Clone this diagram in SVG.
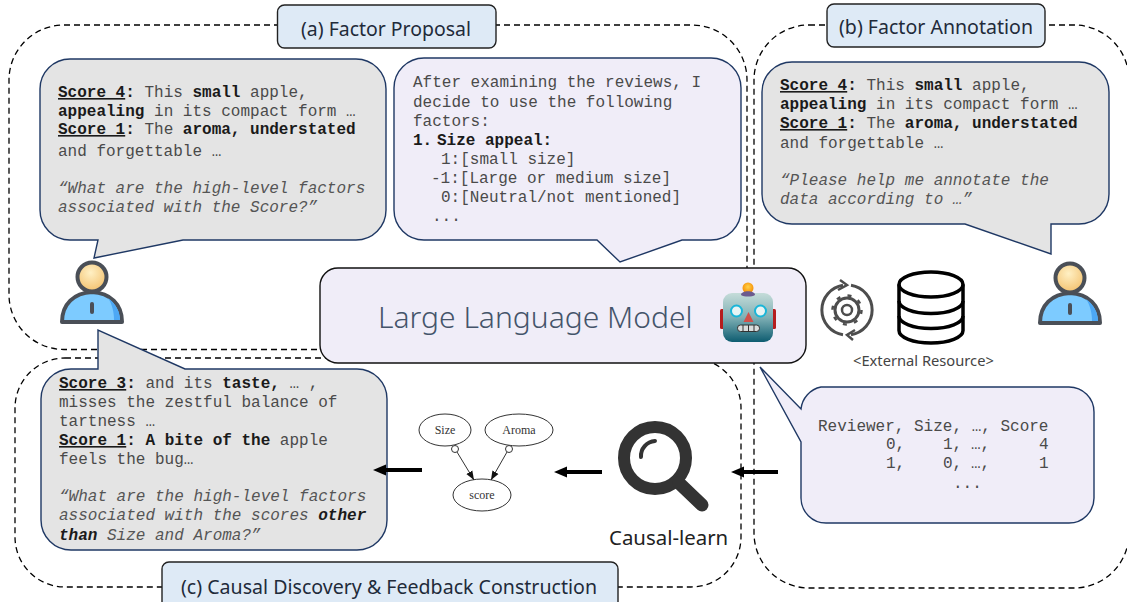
<svg xmlns="http://www.w3.org/2000/svg" width="1127" height="602" viewBox="0 0 1127 602">
<style>
.dash{fill:none;stroke:#000;stroke-width:1.3;stroke-dasharray:6 4}
.tag{fill:#deeaf6;stroke:#222;stroke-width:1.4}
.tagt{font-family:"Noto Sans","Open Sans",sans-serif;font-size:20px;fill:#1f2b3a}
.gray{fill:#e4e4e4;stroke:#1f3864;stroke-width:1.4;stroke-linejoin:miter}
.lav{fill:#f0edf8;stroke:#1f3864;stroke-width:1.4;stroke-linejoin:miter}
.m{font-family:"Liberation Mono","Courier New",monospace;font-size:16px;fill:#4a4a4a;white-space:pre}
.b{font-weight:700;fill:#1a1a1a}
.u{text-decoration:underline}
.i{font-style:italic;fill:#555}
.g{fill:#fff;stroke:#333;stroke-width:1}
.gt{font-family:"Liberation Serif",serif;font-size:12px;fill:#333;text-anchor:middle}
.ln{fill:none;stroke:#000;stroke-width:4}
.thin{fill:none;stroke:#333;stroke-width:1}
</style>
<defs>
<marker id="big" markerUnits="userSpaceOnUse" markerWidth="14" markerHeight="14" refX="1" refY="7" orient="auto"><path d="M13 1.500L0 7L13 12.500Z" fill="#000" transform="rotate(180 7 7)"/></marker>
<marker id="small" markerUnits="userSpaceOnUse" markerWidth="10" markerHeight="10" refX="9" refY="5" orient="auto"><path d="M0 1.500L9 5L0 8.500Z" fill="#111"/></marker>
<linearGradient id="head" x1="0" y1="0" x2="0" y2="1"><stop offset="0" stop-color="#c5dcd9"/><stop offset="0.5" stop-color="#7fb0b5"/><stop offset="1" stop-color="#0d5c70"/></linearGradient>
<radialGradient id="bulb" cx="0.5" cy="0.4" r="0.6"><stop offset="0" stop-color="#ffd24a"/><stop offset="1" stop-color="#f58a00"/></radialGradient>
<radialGradient id="face" cx="0.45" cy="0.35" r="0.65"><stop offset="0" stop-color="#fff0c4"/><stop offset="1" stop-color="#f3c270"/></radialGradient>
<g id="person">
<path d="M62 322 C62 304 74 293 92 292 C110 293 122 304 122 322 Z" fill="#7dcbff" stroke="#4a4f57" stroke-width="4" stroke-linejoin="round"/>
<path d="M108 298 C116 304 120 312 120 320 L114 320 C114 312 112 304 108 298Z" fill="#4da8f5"/>
<circle cx="92" cy="277" r="14.500" fill="url(#face)" stroke="#4a4f57" stroke-width="4"/>
<path d="M92 304V312" stroke="#4a4f57" stroke-width="4" stroke-linecap="round"/>
</g>
</defs>
<rect width="1127" height="602" fill="#fff"/>

<g id="regions">
<rect class="dash" x="9" y="25" width="738" height="324.500" rx="55"/>
<rect class="dash" x="15" y="358" width="726" height="229" rx="50"/>
<rect class="dash" x="754" y="25" width="375" height="563" rx="55"/>
</g>

<g id="tag-a"><rect class="tag" x="277.500" y="5" width="218.500" height="43" rx="7"/><text class="tagt" x="301" y="36" textLength="170" lengthAdjust="spacingAndGlyphs">(a) Factor Proposal</text></g>
<g id="tag-b"><rect class="tag" x="827" y="4" width="218" height="43" rx="7"/><text class="tagt" x="839" y="34" textLength="194" lengthAdjust="spacingAndGlyphs">(b) Factor Annotation</text></g>
<g id="tag-c"><rect class="tag" x="162" y="562" width="456" height="50" rx="7"/><text class="tagt" x="181" y="594" textLength="416" lengthAdjust="spacingAndGlyphs">(c) Causal Discovery &amp; Feedback Construction</text></g>

<g id="user-bubble-a">
<path class="gray" d="M70 59H356A30 30 0 0 1 386 89V210A30 30 0 0 1 356 240H183L94 258L98 240H70A30 30 0 0 1 40 210V89A30 30 0 0 1 70 59Z"/>
<text class="m" y="97"><tspan x="58" class="b u">Score 4</tspan><tspan class="b">:</tspan> This <tspan class="b">small</tspan> apple,</text>
<text class="m" x="58" y="116"><tspan class="b">appealing</tspan> in its compact form …</text>
<text class="m" y="134"><tspan x="58" class="b u">Score 1</tspan><tspan class="b">:</tspan> The <tspan class="b">aroma, understated</tspan></text>
<text class="m" x="58" y="156">and forgettable …</text>
<text class="m i" x="58" y="193">“What are the high-level factors</text>
<text class="m i" x="58" y="212">associated with the Score?”</text>
</g>

<g id="llm-bubble-a">
<path class="lav" d="M424 58H711A30 30 0 0 1 741 88V210A30 30 0 0 1 711 240H682L620 262L597 240H424A30 30 0 0 1 394 210V88A30 30 0 0 1 424 58Z"/>
<text class="m" x="413" y="87">After examining the reviews, I</text>
<text class="m" x="413" y="107">decide to use the following</text>
<text class="m" x="413" y="126">factors:</text>
<text class="m b" y="145"><tspan x="413">1.</tspan><tspan x="437">Size appeal:</tspan></text>
<text class="m" x="441" y="164">1:[small size]</text>
<text class="m" x="431" y="183">-1:[Large or medium size]</text>
<text class="m" x="441" y="202">0:[Neutral/not mentioned]</text>
<text class="m" x="432" y="221">...</text>
</g>

<g id="user-bubble-b">
<path class="gray" d="M792 62H1079A30 30 0 0 1 1109 92V194A30 30 0 0 1 1079 224H1051V254L965 224H792A30 30 0 0 1 762 194V92A30 30 0 0 1 792 62Z"/>
<text class="m" y="90"><tspan x="780" class="b u">Score 4</tspan><tspan class="b">:</tspan> This <tspan class="b">small</tspan> apple,</text>
<text class="m" x="780" y="109"><tspan class="b">appealing</tspan> in its compact form …</text>
<text class="m" y="128"><tspan x="780" class="b u">Score 1</tspan><tspan class="b">:</tspan> The <tspan class="b">aroma, understated</tspan></text>
<text class="m" x="780" y="148">and forgettable …</text>
<text class="m i" x="780" y="185">“Please help me annotate the</text>
<text class="m i" x="780" y="204">data according to …”</text>
</g>

<g id="user-bubble-c">
<path class="gray" d="M71 369H98V330L185 369H357A30 30 0 0 1 387 399V520A30 30 0 0 1 357 550H71A30 30 0 0 1 41 520V399A30 30 0 0 1 71 369Z"/>
<text class="m" y="388"><tspan x="59" class="b u">Score 3</tspan><tspan class="b">:</tspan> and its <tspan class="b">taste,</tspan> … ,</text>
<text class="m" x="59" y="407">misses the zestful balance of</text>
<text class="m" x="59" y="426">tartness …</text>
<text class="m" y="445"><tspan x="59" class="b u">Score 1</tspan><tspan class="b">: A bite of the</tspan> apple</text>
<text class="m" x="59" y="464">feels the bug…</text>
<text class="m i" x="59" y="501">“What are the high-level factors</text>
<text class="m i" x="59" y="520">associated with the scores <tspan class="b">other</tspan></text>
<text class="m i" x="59" y="540"><tspan class="b">than</tspan> Size and Aroma?”</text>
</g>

<g id="data-bubble">
<path class="lav" d="M821 387H1069A25 25 0 0 1 1094 412V498A25 25 0 0 1 1069 523H826A25 25 0 0 1 801 498V442L760 367L801 409A25 25 0 0 1 821 387Z"/>
<text class="m" x="818" y="431">Reviewer, Size, …, Score</text>
<text class="m" y="449"><tspan x="886">0,</tspan><tspan x="943">1,</tspan><tspan x="971">…,</tspan><tspan x="1039">4</tspan></text>
<text class="m" y="468"><tspan x="886">1,</tspan><tspan x="943">0,</tspan><tspan x="971">…,</tspan><tspan x="1039">1</tspan></text>
<text class="m" x="953" y="488">...</text>
</g>

<g id="llm">
<rect x="320" y="268" width="486" height="95" rx="18" fill="#f0edf8" stroke="#111" stroke-width="1.4"/>
<text x="378" y="328" font-family="'Noto Sans','Open Sans',sans-serif" font-weight="300" font-size="30px" fill="#44546a">Large Language Model</text>
<g id="robot">
<rect x="720" y="309" width="5" height="20" rx="1.500" fill="#b51d1d"/>
<rect x="771" y="309" width="5" height="20" rx="1.500" fill="#b51d1d"/>
<circle cx="748" cy="288" r="5.500" fill="url(#bulb)"/>
<rect x="723" y="293" width="50" height="49" rx="9" fill="url(#head)"/>
<path d="M741 295C741 290 755 290 755 295C752 297 744 297 741 295Z" fill="#6b5a8e"/>
<circle cx="736.500" cy="311" r="5.500" fill="#e8f4f4" stroke="#19b5d8" stroke-width="2"/>
<circle cx="760.500" cy="311" r="5.500" fill="#e8f4f4" stroke="#19b5d8" stroke-width="2"/>
<path d="M748.500 312L743.500 322H753.500Z" fill="#d0504a"/>
<rect x="737.500" y="325" width="22" height="6.500" rx="3" fill="#d8dcdc" stroke="#333" stroke-width="1"/>
<path d="M743 325V331.500M748.500 325V331.500M754 325V331.500" stroke="#333" stroke-width="1"/>
</g>
</g>

<use id="user-a" href="#person"/>
<use id="user-b" href="#person" x="978" y="1"/>

<g id="gear-icon" fill="none" stroke="#4d4d4d">
<path d="M843 334.700A25 25 0 0 1 843 285.300" stroke-width="3"/>
<path d="M851 285.300A25 25 0 0 1 851 334.700" stroke-width="3"/>
<path d="M840 280L847 285L838 290" stroke-width="2.500"/>
<path d="M855 330L847 335L853 340" stroke-width="2.500"/>
<circle cx="847" cy="310" r="12" stroke-width="3"/>
<circle cx="847" cy="310" r="14.500" stroke-width="2.500" stroke-dasharray="4 7.400"/>
<circle cx="847" cy="310" r="5" stroke-width="2.500"/>
</g>

<g id="database" fill="none" stroke="#000" stroke-width="3.500">
<ellipse cx="931" cy="284.500" rx="32" ry="12.500"/>
<path d="M899 284.500V330.500C899 337.500 913 343 931 343C949 343 963 337.500 963 330.500V284.500"/>
<path d="M899 301C899 308 913 313.500 931 313.500C949 313.500 963 308 963 301"/>
<path d="M899 316C899 323 913 328.500 931 328.500C949 328.500 963 323 963 316"/>
</g>
<text id="external-label" x="853" y="366" font-family="'Noto Sans','Open Sans',sans-serif" font-size="14.700px" fill="#444">&lt;External Resource&gt;</text>

<g id="causal-learn">
<circle cx="655" cy="458" r="31" fill="none" stroke="#333" stroke-width="12"/>
<path d="M641 457A15 15 0 0 1 655 441" fill="none" stroke="#333" stroke-width="4" stroke-linecap="round"/>
<path d="M679 483L702 505" stroke="#333" stroke-width="13" stroke-linecap="round"/>
<text x="609" y="545" font-family="'Noto Sans','Open Sans',sans-serif" font-size="20.400px" fill="#222">Causal-learn</text>
</g>

<g id="node-size"><ellipse class="g" cx="445" cy="430" rx="26" ry="16"/><text class="gt" x="445" y="434">Size</text></g>
<g id="node-aroma"><ellipse class="g" cx="519" cy="430" rx="34" ry="16"/><text class="gt" x="519" y="434">Aroma</text></g>
<g id="node-score"><ellipse class="g" cx="482" cy="495" rx="29" ry="16"/><text class="gt" x="482" y="499">score</text></g>

<g id="connectors">
<path class="thin" d="M457 452L474 480" marker-end="url(#small)"/>
<path class="thin" d="M507 452L491 480" marker-end="url(#small)"/>
<circle cx="455" cy="449" r="3.500" fill="#fff" stroke="#333"/>
<circle cx="509" cy="449" r="3.500" fill="#fff" stroke="#333"/>
<path class="ln" d="M422 470H386" marker-end="url(#big)"/>
<path class="ln" d="M602 472H567" marker-end="url(#big)"/>
<path class="ln" d="M778 472H744" marker-end="url(#big)"/>
</g>
</svg>
